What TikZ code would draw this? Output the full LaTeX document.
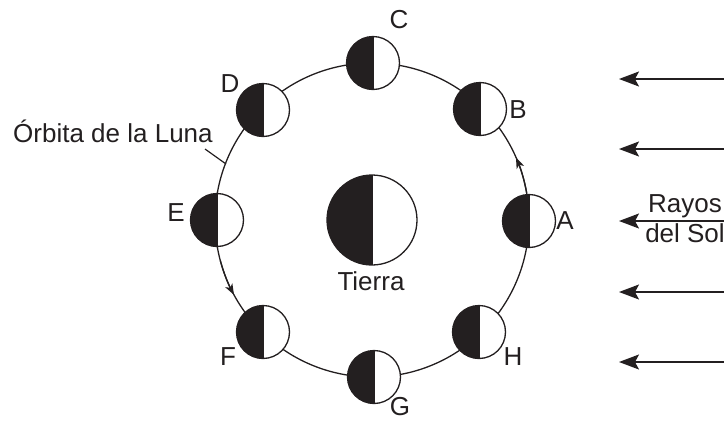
\documentclass[tikz,border=0pt]{standalone}
\usepackage{fontspec}
\setmainfont{Liberation Sans}
\usetikzlibrary{arrows.meta}
\definecolor{ink}{HTML}{231F20}
\begin{document}
\begin{tikzpicture}[x=1pt,y=-1pt,
  lbl/.style={font=\fontsize{26}{30}\selectfont, text=ink, inner sep=0pt},
  moon/.style={circle, draw=ink, line width=1.3pt, fill=white, minimum size=53pt, inner sep=0pt,
    path picture={\fill[ink] (path picture bounding box.south west) rectangle (path picture bounding box.north);
      \draw[ink, line width=1.3pt] (path picture bounding box.south) -- (path picture bounding box.north);}},
  earth/.style={moon, minimum size=90pt},
  orbit/.style={draw=ink, line width=1.3pt},
  orbitarrow/.style={draw=ink, line width=1.3pt, -{Stealth[length=11pt, width=8pt, inset=3pt]}},
  sunray/.style={draw=ink, line width=1.5pt, -{Stealth[length=20pt, width=15pt, inset=4pt]}},
  leader/.style={draw=ink, line width=1.2pt}
]
\useasboundingbox (0,0) rectangle (724,421);
\coordinate (O) at (372,220);
% orbit
\draw[orbit] (O) circle (157);
\draw[orbitarrow] (O) ++(-10:157) arc[start angle=-10, end angle=-23.5, radius=157];
\draw[orbitarrow] (O) ++(-195:157) arc[start angle=-195, end angle=-208.5, radius=157];
% leader for orbit label
\coordinate (L1) at (205,149);
\coordinate (L2) at (226,164);
\draw[leader] (L1) -- (L2);
\node[lbl, anchor=base west] (orbitlbl) at (13,142) {Órbita de la Luna};
% earth
\node[earth] (earth) at (372,220) {};
\node[lbl, anchor=base] (tierra) at (371,290) {Tierra};
% moons
\node[moon] (mA) at (529,221) {};
\node[moon] (mB) at (480,109) {};
\node[moon] (mC) at (373,63) {};
\node[moon] (mD) at (263,110) {};
\node[moon] (mE) at (217,220) {};
\node[moon] (mF) at (263,332) {};
\node[moon] (mG) at (374,377) {};
\node[moon] (mH) at (479,332) {};
% moon labels
\node[lbl] (tA) at (565,221) {A};
\node[lbl] (tB) at (518,110) {B};
\node[lbl] (tC) at (399,20) {C};
\node[lbl] (tD) at (230,84) {D};
\node[lbl] (tE) at (176,213) {E};
\node[lbl] (tF) at (228,357) {F};
\node[lbl] (tG) at (400,407) {G};
\node[lbl] (tH) at (513,357) {H};
% sun rays
\foreach \i/\y in {1/79,2/149,3/221,4/292,5/362}{
  \coordinate (s\i) at (726,\y);
  \coordinate (t\i) at (619,\y);
  \draw[sunray] (s\i) -- (t\i);
}
\node[lbl, anchor=base] (rayos) at (685,212) {Rayos};
\node[lbl, anchor=base] (delsol) at (685,242) {del Sol};
\end{tikzpicture}
\end{document}
